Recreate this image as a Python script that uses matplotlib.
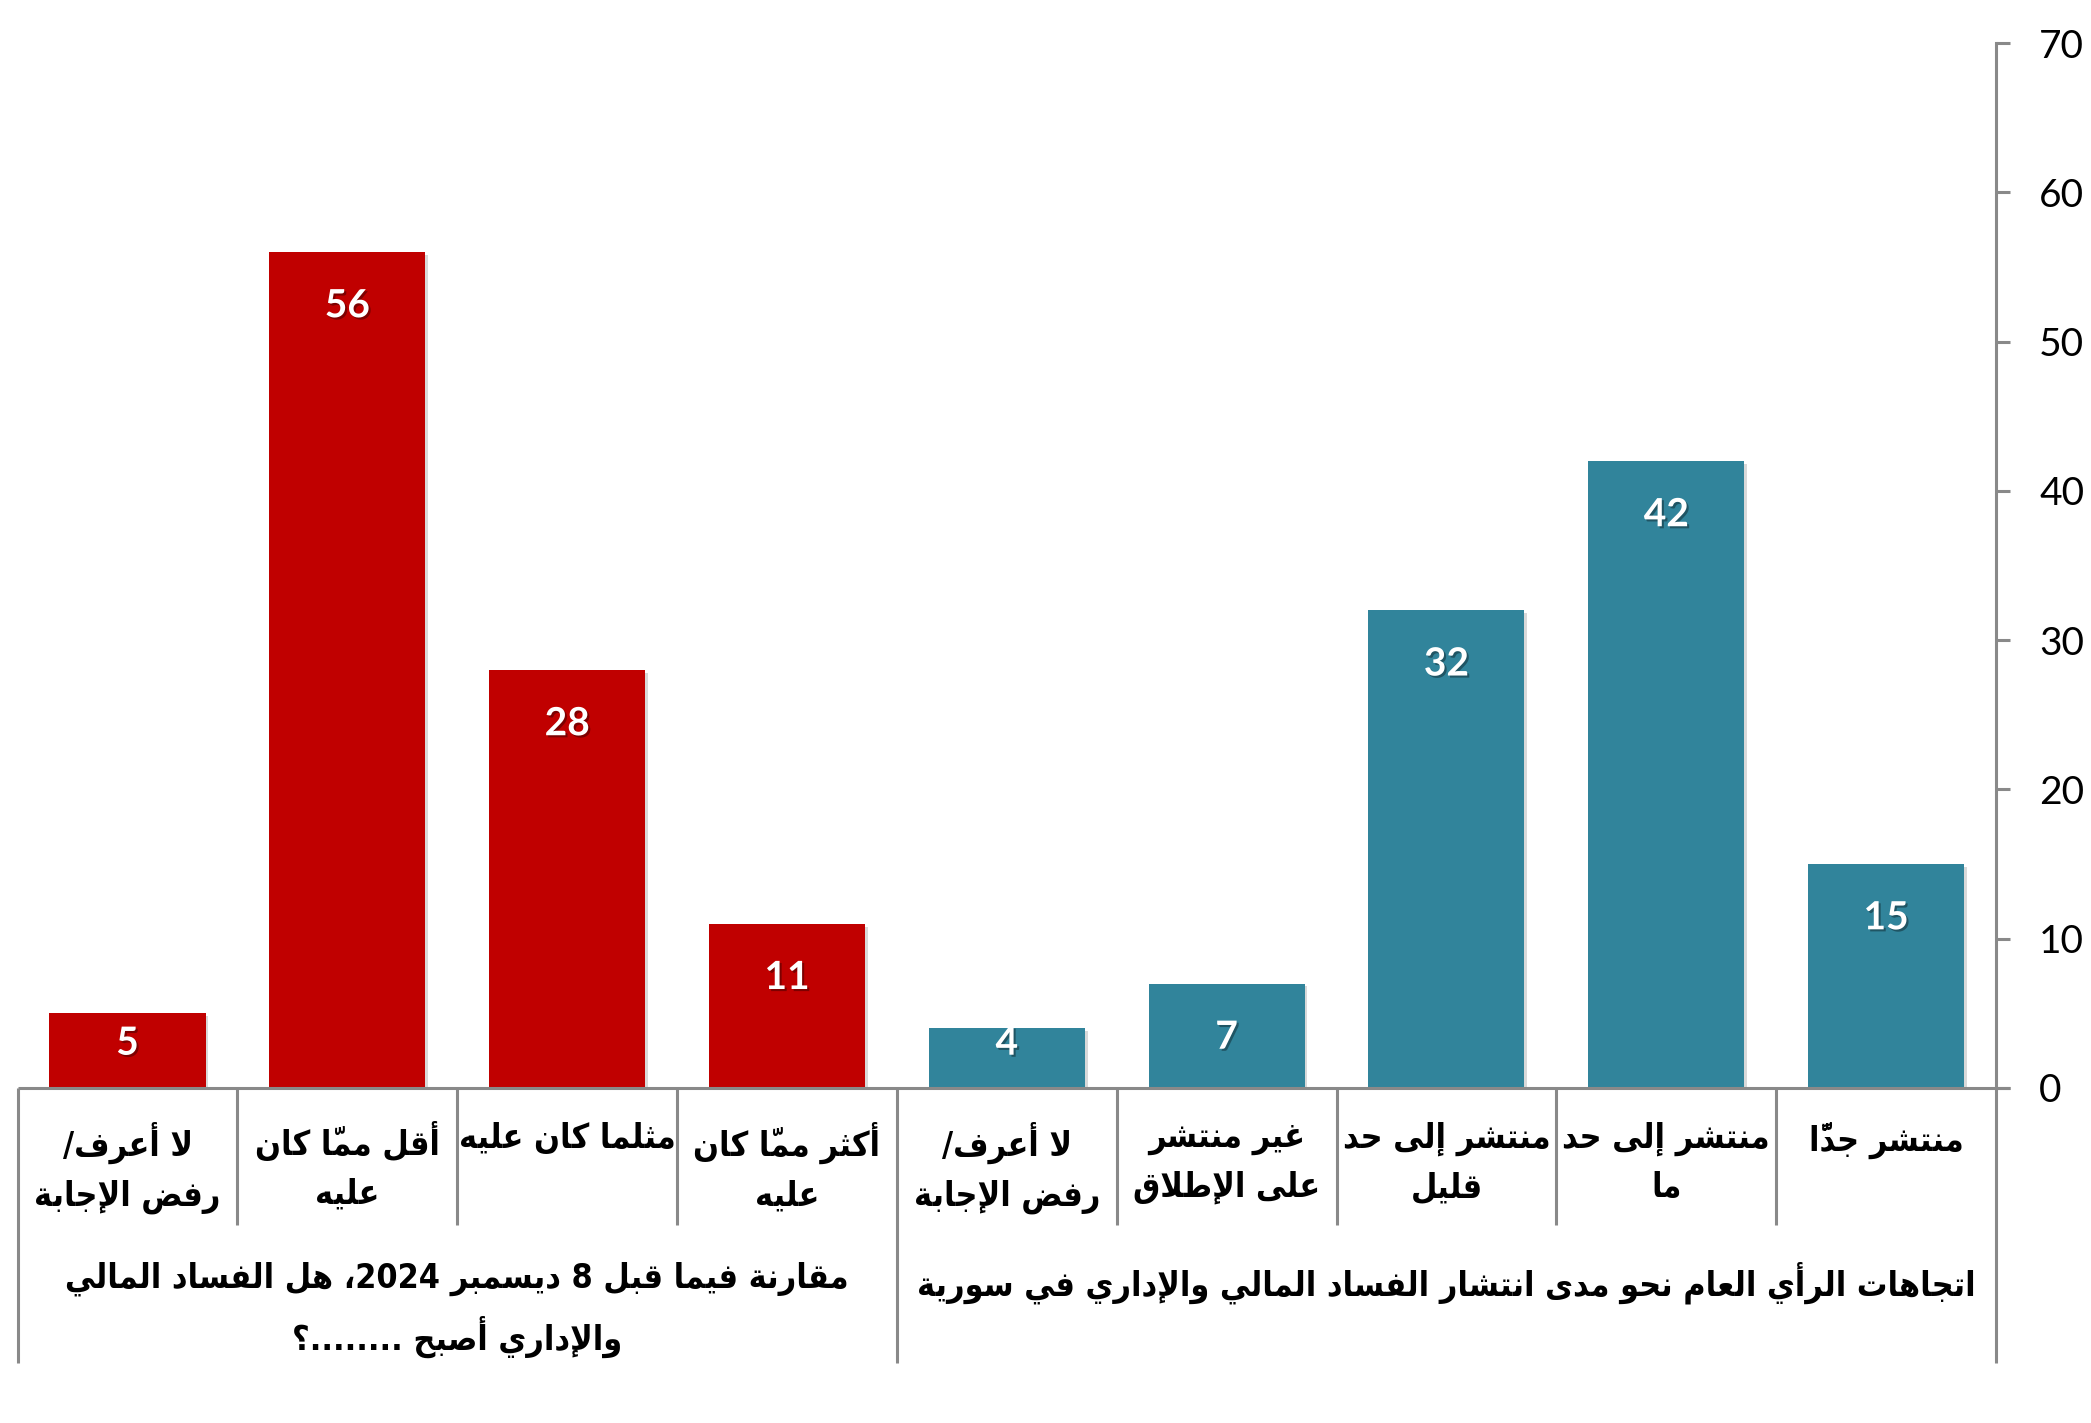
import matplotlib
matplotlib.use("Agg")
import matplotlib.pyplot as plt
import matplotlib.patheffects as pe
from matplotlib.transforms import blended_transform_factory
from matplotlib import font_manager
from matplotlib.ft2font import FT2Font

# ---------------- data ----------------
categories = [
    "لا أعرف/\nرفض الإجابة",
    "أقل ممّا كان\nعليه",
    "مثلما كان عليه",
    "أكثر ممّا كان\nعليه",
    "لا أعرف/\nرفض الإجابة",
    "غير منتشر\nعلى الإطلاق",
    "منتشر إلى حد\nقليل",
    "منتشر إلى حد\nما",
    "منتشر جدًّا",
]
values = [5, 56, 28, 11, 4, 7, 32, 42, 15]
group_labels = [
    "مقارنة فيما قبل 8 ديسمبر 2024، هل الفساد المالي\nوالإداري أصبح ........؟",
    "اتجاهات الرأي العام نحو مدى انتشار الفساد المالي والإداري في سورية",
]
group_sizes = [4, 5]
group_colors = ["#C00000", "#31849B"]
yticks = [0, 10, 20, 30, 40, 50, 60, 70]

# ---------------- minimal Arabic shaping (presentation forms + RTL order) ----------------
_BASE = {
    '\u0621': (0xFE80, 'U'), '\u0622': (0xFE81, 'R'), '\u0623': (0xFE83, 'R'),
    '\u0624': (0xFE85, 'R'), '\u0625': (0xFE87, 'R'), '\u0626': (0xFE89, 'D'),
    '\u0627': (0xFE8D, 'R'), '\u0628': (0xFE8F, 'D'), '\u0629': (0xFE93, 'R'),
    '\u062A': (0xFE95, 'D'), '\u062B': (0xFE99, 'D'), '\u062C': (0xFE9D, 'D'),
    '\u062D': (0xFEA1, 'D'), '\u062E': (0xFEA5, 'D'), '\u062F': (0xFEA9, 'R'),
    '\u0630': (0xFEAB, 'R'), '\u0631': (0xFEAD, 'R'), '\u0632': (0xFEAF, 'R'),
    '\u0633': (0xFEB1, 'D'), '\u0634': (0xFEB5, 'D'), '\u0635': (0xFEB9, 'D'),
    '\u0636': (0xFEBD, 'D'), '\u0637': (0xFEC1, 'D'), '\u0638': (0xFEC5, 'D'),
    '\u0639': (0xFEC9, 'D'), '\u063A': (0xFECD, 'D'), '\u0641': (0xFED1, 'D'),
    '\u0642': (0xFED5, 'D'), '\u0643': (0xFED9, 'D'), '\u0644': (0xFEDD, 'D'),
    '\u0645': (0xFEE1, 'D'), '\u0646': (0xFEE5, 'D'), '\u0647': (0xFEE9, 'D'),
    '\u0648': (0xFEED, 'R'), '\u0649': (0xFEEF, 'R'), '\u064A': (0xFEF1, 'D'),
}
_LAMALEF = {'\u0622': 0xFEF5, '\u0623': 0xFEF7, '\u0625': 0xFEF9, '\u0627': 0xFEFB}


def _is_mark(ch):
    o = ord(ch)
    return 0x064B <= o <= 0x065F or o == 0x0670


def _shape_line(s):
    clusters = []
    for ch in s:
        if _is_mark(ch) and clusters:
            clusters[-1][1] += ch
        else:
            clusters.append([ch, ''])
    merged = []
    i = 0
    while i < len(clusters):
        b, m = clusters[i]
        if b == '\u0644' and i + 1 < len(clusters) and clusters[i + 1][0] in _LAMALEF:
            merged.append([('LA', _LAMALEF[clusters[i + 1][0]]), m + clusters[i + 1][1]])
            i += 2
        else:
            merged.append([b, m])
            i += 1

    def jtype(b):
        if isinstance(b, tuple):
            return 'R'
        if b in _BASE:
            return _BASE[b][1]
        return None

    out = []
    for i, (b, m) in enumerate(merged):
        t = jtype(b)
        if t is None:
            out.append((m + b, b.isdigit() or (b.isascii() and b.isalpha())))
            continue
        base = b[1] if isinstance(b, tuple) else _BASE[b][0]
        if t == 'U':
            out.append((m + chr(base), False))
            continue
        prev_t = jtype(merged[i - 1][0]) if i > 0 else None
        next_t = jtype(merged[i + 1][0]) if i + 1 < len(merged) else None
        jp = prev_t == 'D'
        jn = (t == 'D') and next_t in ('D', 'R')
        if t == 'D':
            off = 3 if (jp and jn) else 2 if jn else 1 if jp else 0
        else:
            off = 1 if jp else 0
        # marks placed before the base in visual order (font draws them over the following glyph)
        out.append((m + chr(base + off), False))
    out = out[::-1]
    res = []
    i = 0
    while i < len(out):
        if out[i][1]:
            j = i
            while j < len(out) and out[j][1]:
                j += 1
            res.extend(g for g, _ in out[i:j][::-1])
            i = j
        else:
            res.append(out[i][0])
            i += 1
    return ''.join(res)


def ar(text):
    return '\n'.join(_shape_line(l) for l in text.split('\n'))


# choose Arabic font: condensed DejaVu if available with Arabic presentation forms
AR_PROPS = dict(family=['DejaVu Sans'], fontweight='bold')
AR_SIZE = 22
try:
    fp = font_manager.FontProperties(family='DejaVu Sans', weight='bold', stretch='condensed')
    path = font_manager.findfont(fp, fallback_to_default=False)
    if 'ondensed' in path and FT2Font(path).get_char_index(0xFEFB) != 0:
        AR_PROPS = dict(fontproperties=fp)
        AR_SIZE = 24.4
except Exception:
    pass

# ---------------- figure ----------------
GRAY = "#898989"
W, H = 2091, 1423
fig = plt.figure(figsize=(W / 100, H / 100), dpi=100)
px_left, px_right, px_y0, px_y70 = 17.6, 1996, 1088, 43
ax = fig.add_axes([px_left / W, (H - px_y0) / H, (px_right - px_left) / W, (px_y0 - px_y70) / H])
ax_h = px_y0 - px_y70


def ay(px):
    return -(px - px_y0) / ax_h


colors = []
for c, n in zip(group_colors, group_sizes):
    colors += [c] * n
x = list(range(len(values)))
bars = ax.bar(x, values, width=0.71, color=colors, zorder=3)
for b in bars:
    b.set_path_effects([pe.SimplePatchShadow(offset=(2, -2), alpha=0.15, shadow_rgbFace='black'), pe.Normal()])

ax.set_xlim(-0.5, len(values) - 0.5)
ax.set_ylim(0, 70)
ax.set_yticks(yticks)
ax.yaxis.tick_right()
ax.tick_params(axis='y', direction='out', length=10, width=2.2, color=GRAY, pad=21, labelsize=28)
for lab in ax.get_yticklabels():
    lab.set_fontfamily('Lato')
ax.set_xticks([])
for s in ['left', 'top', 'bottom']:
    ax.spines[s].set_visible(False)
ax.spines['right'].set_color(GRAY)
ax.spines['right'].set_linewidth(2.2)

# value labels
for xi, v in zip(x, values):
    ax.text(xi, max(v - 3.6, 3.0), str(v), ha='center', va='center', color='white',
            fontsize=28, fontweight='bold', family='Lato', zorder=5,
            path_effects=[pe.withSimplePatchShadow(offset=(1.5, -1.5), alpha=0.35, shadow_rgbFace='black')])

# x axis line extended to tick end
ax.plot([0, 1 + 14 / (px_right - px_left)], [0, 0], transform=ax.transAxes, color=GRAY, lw=2.2,
        clip_on=False, zorder=4, solid_capstyle='butt')

# separators
tr = blended_transform_factory(ax.transData, ax.transAxes)
bounds = [0]
for n in group_sizes:
    bounds.append(bounds[-1] + n)
for k in range(len(values) + 1):
    ybot = ay(1363) if k in bounds else ay(1225)
    ax.plot([k - 0.5, k - 0.5], [0, ybot], transform=tr, color=GRAY, lw=2.2, clip_on=False,
            solid_capstyle='butt')

# category labels
for xi, c in zip(x, categories):
    ax.text(xi, ay(1122), ar(c), transform=tr, ha='center', va='top', multialignment='center',
            fontsize=AR_SIZE, linespacing=1.58, **AR_PROPS)

# group labels
start = 0
for lbl, n in zip(group_labels, group_sizes):
    cx = start + (n - 1) / 2
    ax.text(cx, ay(1262), ar(lbl), transform=tr, ha='center', va='top', multialignment='center',
            fontsize=AR_SIZE, linespacing=1.58, **AR_PROPS)
    start += n

fig.savefig("out.png", dpi=100)
